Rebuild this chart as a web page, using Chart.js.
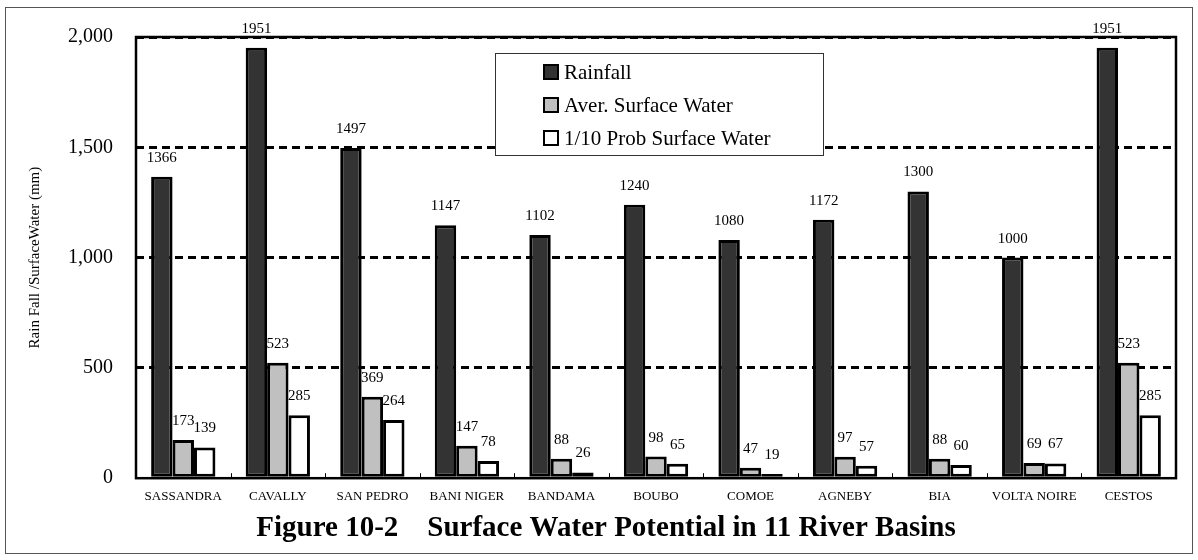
<!DOCTYPE html>
<html>
<head>
<meta charset="utf-8">
<script src="https://cdn.jsdelivr.net/npm/chart.js@4"></script>
<style>
  html, body { margin: 0; padding: 0; background: #fff; }
  #wrap { position: relative; width: 1198px; height: 560px; }
</style>
</head>
<body>
<div id="wrap"><canvas id="chart"></canvas></div>
<script>
// River basins and values (mm)
const basins = ['SASSANDRA', 'CAVALLY', 'SAN PEDRO', 'BANI NIGER', 'BANDAMA', 'BOUBO', 'COMOE', 'AGNEBY', 'BIA', 'VOLTA NOIRE', 'CESTOS'];
const rainfall = [1366, 1951, 1497, 1147, 1102, 1240, 1080, 1172, 1300, 1000, 1951];
const averSurface = [173, 523, 369, 147, 88, 98, 47, 97, 88, 69, 523];
const probSurface = [139, 285, 264, 78, 26, 65, 19, 57, 60, 67, 285];
const seriesNames = ['Rainfall', 'Aver. Surface Water', '1/10 Prob Surface Water'];
const yTicks = [0, 500, 1000, 1500, 2000];

const serif = '"Liberation Serif", "Times New Roman", serif';

// outer frame + plot frame + small category ticks
const framePlugin = {
  id: 'frame',
  beforeDraw(chart) {
    const ctx = chart.ctx;
    ctx.save();
    ctx.fillStyle = '#fff';
    ctx.fillRect(0, 0, chart.width, chart.height);
    ctx.strokeStyle = '#555';
    ctx.lineWidth = 1;
    ctx.strokeRect(5.5, 7.5, 1187, 546);
    ctx.restore();
  },
  afterDatasetsDraw(chart) {
    const {ctx, chartArea: a, scales: {x}} = chart;
    ctx.save();
    ctx.strokeStyle = '#000';
    ctx.lineWidth = 2.5;
    ctx.strokeRect(a.left, a.top, a.right - a.left, a.bottom - a.top);
    ctx.lineWidth = 1;
    for (let i = 1; i < basins.length; i++) {
      const px = Math.round((x.getPixelForValue(i - 1) + x.getPixelForValue(i)) / 2) + 0.5;
      ctx.beginPath();
      ctx.moveTo(px, a.bottom);
      ctx.lineTo(px, a.bottom - 5);
      ctx.stroke();
    }
    ctx.restore();
  }
};

// value labels above bars
const valueLabels = {
  id: 'valueLabels',
  afterDatasetsDraw(chart) {
    const ctx = chart.ctx;
    ctx.save();
    ctx.font = '15px ' + serif;
    ctx.fillStyle = '#000';
    ctx.textAlign = 'center';
    ctx.textBaseline = 'middle';
    chart.data.datasets.forEach((ds, di) => {
      chart.getDatasetMeta(di).data.forEach((bar, i) => {
        ctx.fillText(String(ds.data[i]), bar.x, bar.y - 19);
      });
    });
    ctx.restore();
  }
};

// boxed legend inside the plot
const boxLegend = {
  id: 'boxLegend',
  afterDraw(chart) {
    const ctx = chart.ctx;
    const bx = 495, by = 53, bw = 328, bh = 102;
    ctx.save();
    ctx.fillStyle = '#fff';
    ctx.fillRect(bx, by, bw, bh);
    ctx.strokeStyle = '#333';
    ctx.lineWidth = 1;
    ctx.strokeRect(bx + 0.5, by + 0.5, bw, bh);
    ctx.font = '21px ' + serif;
    ctx.textBaseline = 'middle';
    chart.data.datasets.forEach((ds, i) => {
      const cy = 72 + i * 33;
      ctx.fillStyle = ds.backgroundColor;
      ctx.fillRect(544, cy - 7, 14, 14);
      ctx.strokeStyle = '#000';
      ctx.lineWidth = 2;
      ctx.strokeRect(544, cy - 7, 14, 14);
      ctx.fillStyle = '#000';
      ctx.fillText(ds.label, 564, cy + 1);
    });
    ctx.restore();
  }
};

const barStyle = {
  borderColor: '#000',
  borderWidth: 3,
  borderSkipped: false,
  categoryPercentage: 0.68,
  barPercentage: 1.0
};

new Chart(document.getElementById('chart'), {
  type: 'bar',
  data: {
    labels: basins,
    datasets: [
      Object.assign({label: seriesNames[0], data: rainfall, backgroundColor: '#333333'}, barStyle),
      Object.assign({label: seriesNames[1], data: averSurface, backgroundColor: '#c0c0c0'}, barStyle),
      Object.assign({label: seriesNames[2], data: probSurface, backgroundColor: '#ffffff'}, barStyle)
    ]
  },
  options: {
    responsive: true,
    maintainAspectRatio: false,
    animation: false,
    layout: { padding: { left: 14, right: 0, top: 37, bottom: 0 } },
    plugins: {
      legend: { display: false },
      tooltip: { enabled: false },
      title: {
        display: true,
        position: 'bottom',
        text: 'Figure 10-2    Surface Water Potential in 11 River Basins',
        color: '#000',
        font: { family: serif, size: 29, weight: 'bold' },
        padding: { top: 3, bottom: 14 }
      }
    },
    scales: {
      x: {
        grid: { display: false, drawTicks: false },
        border: { display: false },
        ticks: {
          color: '#000',
          font: { family: serif, size: 13 },
          padding: 11,
          maxRotation: 0,
          autoSkip: false
        },
        afterFit(scale) { scale.height = 30; }
      },
      y: {
        min: 0,
        max: 2000,
        afterBuildTicks(scale) { scale.ticks = yTicks.map(v => ({value: v})); },
        grid: {
          drawTicks: false,
          lineWidth: 3,
          color: ctx => ctx.tick && ctx.tick.value === 0 ? 'rgba(0,0,0,0)' : '#000'
        },
        border: { display: false, dash: [8, 5] },
        ticks: {
          color: '#000',
          font: { family: serif, size: 20 },
          padding: 23,
          callback: v => v.toLocaleString('en-US')
        },
        title: {
          display: true,
          text: 'Rain Fall /SurfaceWater (mm)',
          color: '#000',
          font: { family: serif, size: 15 },
          padding: { top: 12, bottom: 0 }
        },
        afterFit(scale) { scale.width = 122; }
      },
      yRight: {
        position: 'right',
        display: true,
        grid: { display: false },
        border: { display: false },
        ticks: { display: false },
        afterFit(scale) { scale.width = 22; }
      }
    }
  },
  plugins: [framePlugin, valueLabels, boxLegend]
});
</script>
</body>
</html>
